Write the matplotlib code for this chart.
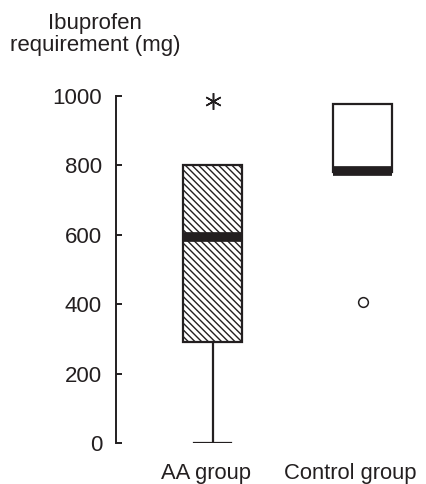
import matplotlib
matplotlib.use("Agg")
import matplotlib.pyplot as plt
from matplotlib.transforms import blended_transform_factory

plt.rcParams['font.family'] = ['Liberation Sans', 'DejaVu Sans']
plt.rcParams['hatch.linewidth'] = 1.0

categories = ["AA group", "Control group"]
whislo = [0, 785]
q1 = [292, 780]
med = [595, 785]
q3 = [800, 977]
whishi = [800, 977]
fliers = [[985], [405]]
yticks = [0, 200, 400, 600, 800, 1000]

W, H = 426, 484
fig = plt.figure(figsize=(W / 100, H / 100), dpi=100)
ax_left, ax_right = 116, 426
ax_bottom, ax_top = 443, 96
ax = fig.add_axes([ax_left / W, 1 - ax_bottom / H, (ax_right - ax_left) / W, (ax_bottom - ax_top) / H])

ink = '#231f20'
stats = []
for i, c in enumerate(categories):
    stats.append(dict(label=c, whislo=whislo[i], q1=q1[i], med=med[i], q3=q3[i],
                      whishi=whishi[i], fliers=[]))

positions = [1, 2]
bp = ax.bxp(stats, positions=positions, widths=0.387, patch_artist=True,
            showfliers=False, capwidths=[0.253, 0.253],
            boxprops=dict(linewidth=1.6, edgecolor=ink),
            whiskerprops=dict(linewidth=1.6, color=ink),
            capprops=dict(linewidth=1.6, color=ink),
            medianprops=dict(linewidth=7, color=ink, solid_capstyle='butt'))
bp['boxes'][0].set_facecolor('white')
bp['boxes'][0].set_hatch('\\' * 5)
bp['boxes'][1].set_facecolor('white')
for j in (2, 3):
    bp['caps'][j].set_visible(False)
    bp['whiskers'][j].set_visible(False)
bp['caps'][1].set_visible(False)

ax.plot([positions[0]] * len(fliers[0]), fliers[0], linestyle='none',
        marker=(6, 2, 0), markersize=12, markeredgewidth=1.1, color=ink, clip_on=False)
ax.plot([positions[1]] * len(fliers[1]), fliers[1], linestyle='none',
        marker='o', markersize=7, markerfacecolor='white', markeredgewidth=1.1,
        markeredgecolor=ink, clip_on=False)

x0 = 1 - (212.5 - ax_left) / 150
x1 = 1 + (ax_right - 212.5) / 150
ax.set_xlim(x0, x1)
ax.set_ylim(0, 1000)
ax.set_yticks(yticks)
ax.set_yticklabels([str(t) for t in yticks])
ax.set_xticks([])

# category labels (slightly left of box centres, as in the reference)
label_shift = [-0.043, -0.08]
trans = blended_transform_factory(ax.transData, fig.transFigure)
for p, c, d in zip(positions, categories, label_shift):
    ax.text(p + d, 1 - 473 / H, c, transform=trans, ha='center', va='center',
            fontsize=15.8, color=ink)

for s in ('top', 'right', 'bottom'):
    ax.spines[s].set_visible(False)
ax.spines['left'].set_linewidth(1.4)
ax.spines['left'].set_color(ink)
ax.tick_params(axis='y', direction='in', length=4.5, width=1.4, color=ink,
               labelsize=16, pad=10, labelcolor=ink)

fig.text(95 / W, 1 - 28.5 / H, "Ibuprofen", ha='center', va='baseline', fontsize=16, color=ink)
fig.text(95 / W, 1 - 50.5 / H, "requirement (mg)", ha='center', va='baseline', fontsize=16, color=ink)

fig.savefig("out.png", dpi=100)
